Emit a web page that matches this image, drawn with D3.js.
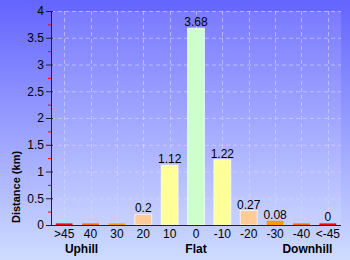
<!DOCTYPE html>
<html>
<head>
<meta charset="utf-8">
<script src="https://cdn.jsdelivr.net/npm/d3@7"></script>
<style>
  body { margin: 0; }
  svg { display: block; font-family: "Liberation Sans", Arial, sans-serif; }
</style>
</head>
<body>
<div id="chart"></div>
<script>
// gradient categories, left to right
let categories = [">45", "40", "30", "20", "10", "0", "-10", "-20", "-30", "-40", "<-45"],
    distances = [0.03, 0.03, 0.03, 0.2, 1.12, 3.68, 1.22, 0.27, 0.08, 0.03, 0.03],
    valueLabels = ["", "", "", "0.2", "1.12", "3.68", "1.22", "0.27", "0.08", "", "0"],
    barColors = ["#ff0000", "#ff6600", "#ff9900", "#ffcc99", "#ffff99", "#ccffcc",
                 "#ffff99", "#ffcc99", "#ff9900", "#ff6600", "#ff0000"],
    groups = [{name: "Uphill", at: "40", dx: -9}, {name: "Flat", at: "0", dx: 0}, {name: "Downhill", at: "-40", dx: 6}],
    yTicks = [0, 0.5, 1, 1.5, 2, 2.5, 3, 3.5, 4];

let width = 350, height = 260,
    margin = ({top: 11, right: 9, bottom: 35, left: 51});

let x = d3.scaleBand()
    .domain(categories)
    .range([margin.left, width - margin.right]);

let y = d3.scaleLinear()
    .domain([0, 4])
    .range([height - margin.bottom, margin.top]);

const svg = d3.select("#chart").append("svg")
    .attr("width", width)
    .attr("height", height);

let defs = svg.append("defs");
let grad = defs.append("linearGradient")
    .attr("id", "bg").attr("x1", 0).attr("y1", 0).attr("x2", 0).attr("y2", 1);
grad.append("stop").attr("offset", "0%").attr("stop-color", "#6464ff");
grad.append("stop").attr("offset", "100%").attr("stop-color", "#cfdcff");

svg.append("rect")
    .attr("width", width).attr("height", height)
    .attr("fill", "url(#bg)");

// plot area, slightly lighter
svg.append("rect")
    .attr("x", margin.left).attr("y", margin.top)
    .attr("width", width - margin.left - margin.right)
    .attr("height", height - margin.top - margin.bottom)
    .attr("fill", "#ffffff").attr("fill-opacity", 0.12);

// grid
let grid = svg.append("g")
    .attr("stroke", "#d8d8ff").attr("stroke-opacity", 0.6)
    .attr("stroke-dasharray", "4,3");
grid.selectAll("line.h")
    .data(yTicks.slice(1))
    .join("line").attr("class", "h")
    .attr("x1", margin.left).attr("x2", width - margin.right)
    .attr("y1", d => y(d) + 0.5).attr("y2", d => y(d) + 0.5);
grid.selectAll("line.v")
    .data(categories)
    .join("line").attr("class", "v")
    .attr("x1", d => Math.round(x(d) + x.bandwidth() / 2) + 0.5)
    .attr("x2", d => Math.round(x(d) + x.bandwidth() / 2) + 0.5)
    .attr("y1", margin.top).attr("y2", y(0));

// bars
let bw = x.bandwidth() * 0.64;
svg.append("g")
    .selectAll("rect")
    .data(categories)
    .join("rect")
    .attr("x", (d, i) => x(d) + (x.bandwidth() - bw) / 2)
    .attr("y", (d, i) => y(distances[i]))
    .attr("width", bw)
    .attr("height", (d, i) => y(0) - y(distances[i]))
    .attr("fill", (d, i) => barColors[i])
    .attr("stroke", (d, i) => distances[i] > 0.1 ? "#ffffff" : "none")
    .attr("stroke-opacity", 0.7)
    .attr("stroke-width", 1);

// value labels
svg.append("g")
    .attr("font-size", 12)
    .attr("text-anchor", "middle")
    .selectAll("text")
    .data(categories)
    .join("text")
    .attr("x", d => x(d) + x.bandwidth() / 2)
    .attr("y", (d, i) => y(distances[i]) - 2)
    .attr("fill", "#000")
    .text((d, i) => valueLabels[i]);

// y axis with minor red ticks
let yAxis = svg.append("g")
    .attr("transform", `translate(${margin.left},0)`)
    .call(d3.axisLeft(y).tickValues(yTicks).tickSize(5).tickPadding(2)
        .tickFormat(d3.format("")))
    .call(g => g.select(".domain").attr("d", `M0.5,${margin.top}V${y(0)}`).attr("stroke", "#222"))
    .call(g => g.selectAll(".tick line").attr("x1", 2).attr("stroke", "#222"))
    .call(g => g.selectAll(".tick text").attr("font-size", 12).attr("fill", "#000")
        .attr("font-family", "Liberation Sans, Arial, sans-serif"));
yAxis.selectAll("line.minor")
    .data(yTicks.slice(1).map(d => d - 0.25))
    .join("line").attr("class", "minor")
    .attr("x1", -3).attr("x2", 0)
    .attr("y1", d => y(d) + 0.5).attr("y2", d => y(d) + 0.5)
    .attr("stroke", "#ff0000");

// x axis
svg.append("g")
    .attr("transform", `translate(0,${y(0)})`)
    .call(d3.axisBottom(x).tickSize(0).tickPadding(4))
    .call(g => g.select(".domain").attr("d", `M${margin.left},0.5H${width - margin.right}`).attr("stroke", "#222"))
    .call(g => g.selectAll(".tick text").attr("font-size", 12).attr("fill", "#000")
        .attr("font-family", "Liberation Sans, Arial, sans-serif"));

// group labels
svg.append("g")
    .attr("font-size", 12).attr("font-weight", "bold")
    .attr("text-anchor", "middle")
    .selectAll("text")
    .data(groups)
    .join("text")
    .attr("x", d => x(d.at) + x.bandwidth() / 2 + d.dx)
    .attr("y", 253)
    .text(d => d.name);

// y title
svg.append("text")
    .attr("transform", "translate(20,187) rotate(-90)")
    .attr("text-anchor", "middle")
    .attr("font-size", 11).attr("font-weight", "bold")
    .text("Distance (km)");
</script>
</body>
</html>
